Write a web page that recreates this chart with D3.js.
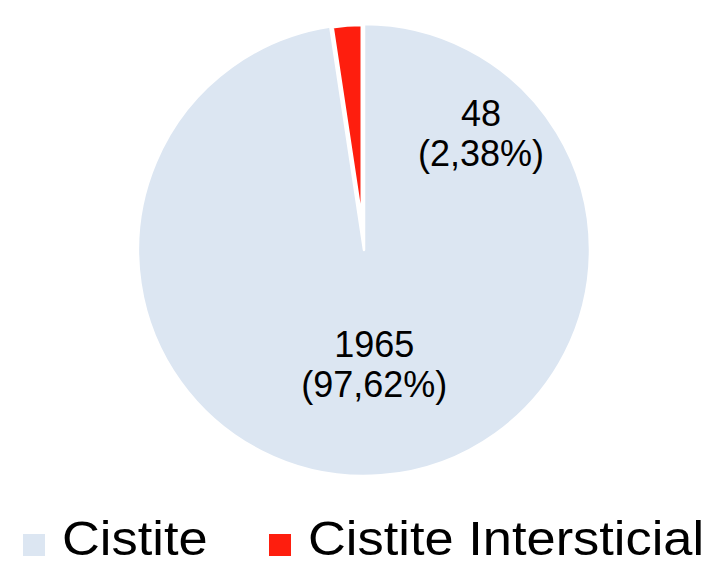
<!DOCTYPE html>
<meta charset="utf-8">
<style>
body { margin: 0; background: #fff; }
svg text { font-family: "Liberation Sans", Arial, sans-serif; fill: #000; }
.lbl { font-size: 36px; }
.legend text { font-size: 49px; }
</style>
<body>
<script src="https://d3js.org/d3.v7.min.js"></script>
<script>

var categories = ["Cistite", "Cistite Intersticial"];
var counts = [1965, 48];
var percents = ["97,62%", "2,38%"];
var colors = ["#dce6f2", "#fe1e0e"];

var width = 707, height = 566,
    cx = 364, cy = 250,
    radius = 226;

var svg = d3.select("body").append("svg")
    .attr("width", width)
    .attr("height", height);

var pie = d3.pie().sort(null).value(function(d) { return d; });
var arcs = pie(counts);

var g = svg.append("g")
    .attr("transform", "translate(" + cx + "," + cy + ")");

// exploded slice is pushed out along its bisector and drawn a bit smaller
var explode = [0, 30];
var outer = [radius, 195];

g.selectAll(".slice")
    .data(arcs)
    .enter().append("path")
    .attr("class", "slice")
    .attr("d", function(d, i) { return d3.arc().innerRadius(0).outerRadius(outer[i])(d); })
    .attr("transform", function(d, i) {
        var p = d3.pointRadial((d.startAngle + d.endAngle) / 2, explode[i]);
        return "translate(" + p[0] + "," + p[1] + ")";
    })
    .attr("fill", function(d, i) { return colors[i]; })
    .attr("stroke", "#fff")
    .attr("stroke-width", 2.5)
    .attr("stroke-linejoin", "round");

// data labels: first-line baseline, given as (angle, distance) from the centre
var labelPos = [
    d3.pointRadial((arcs[0].startAngle + arcs[0].endAngle) / 2 - 0.02, 107.5),
    d3.pointRadial(0.756, 170.5)
];

labelPos.forEach(function(p, i) {
    var t = g.append("text")
        .attr("class", "lbl")
        .attr("text-anchor", "middle")
        .attr("x", p[0])
        .attr("y", p[1]);
    t.append("tspan").attr("x", p[0]).text(counts[i]);
    t.append("tspan").attr("x", p[0]).attr("dy", 40).text("(" + percents[i] + ")");
});

// legend (text slightly stretched, as in the original)
var legendX = [23, 269];
var legend = svg.append("g").attr("class", "legend");
categories.forEach(function(c, i) {
    legend.append("rect")
        .attr("x", legendX[i])
        .attr("y", 534)
        .attr("width", 22)
        .attr("height", 22)
        .attr("fill", colors[i]);
    legend.append("text")
        .attr("transform", "translate(" + (legendX[i] + 39) + ",555) scale(1.07,1)")
        .text(c);
});

</script>
